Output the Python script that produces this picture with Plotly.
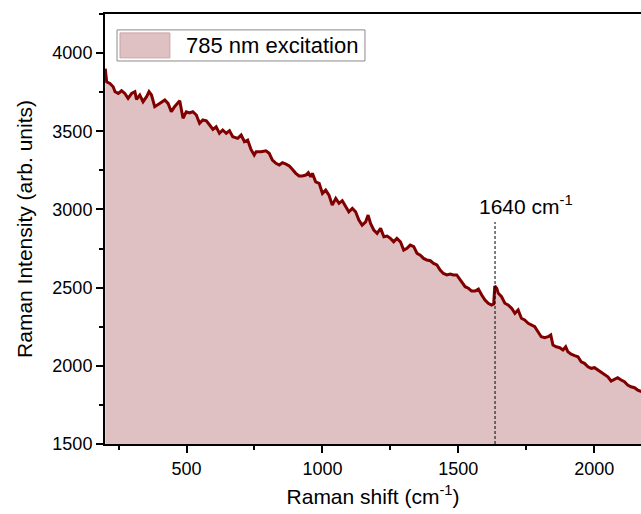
import plotly.graph_objects as go

# Raman-Spektrum (785 nm)
raman_shift = [201, 206, 218, 230, 237, 249, 261, 273, 285, 298, 310, 316, 328, 340, 353, 362, 371, 383,
               401, 420, 432, 444, 456, 468, 475, 487, 499, 511, 523, 536, 548, 560, 573, 585, 597, 609,
               621, 633, 646, 658, 670, 688, 701, 713, 725, 737, 749, 756, 774, 792, 804, 816, 829, 841,
               853, 866, 878, 890, 902, 914, 926, 939, 948, 957, 963, 975, 988, 1000, 1012, 1024, 1036,
               1049, 1061, 1073, 1085, 1097, 1110, 1122, 1134, 1146, 1159, 1168, 1177, 1189, 1201, 1214,
               1226, 1238, 1250, 1262, 1274, 1287, 1299, 1311, 1323, 1336, 1348, 1360, 1372, 1384, 1397,
               1409, 1421, 1433, 1445, 1458, 1470, 1482, 1494, 1507, 1519, 1525, 1537, 1549, 1562, 1574,
               1586, 1598, 1610, 1622, 1630, 1634, 1641, 1647, 1659, 1671, 1683, 1696, 1708, 1720, 1732,
               1744, 1757, 1769, 1781, 1793, 1805, 1818, 1830, 1840, 1848, 1860, 1873, 1885, 1895, 1903,
               1915, 1928, 1940, 1952, 1964, 1977, 1989, 2001, 2013, 2025, 2038, 2050, 2062, 2074, 2086,
               2099, 2111, 2123, 2135, 2148, 2160, 2175]
intensity = [3900, 3817, 3806, 3785, 3753, 3742, 3759, 3742, 3710, 3742, 3753, 3704, 3732, 3689, 3721, 3753,
             3732, 3657, 3678, 3700, 3678, 3625, 3657, 3678, 3695, 3583, 3625, 3618, 3625, 3604, 3551, 3572,
             3567, 3540, 3512, 3529, 3487, 3508, 3487, 3503, 3465, 3455, 3476, 3433, 3444, 3384, 3348, 3369,
             3369, 3375, 3359, 3316, 3295, 3284, 3299, 3290, 3278, 3256, 3231, 3214, 3214, 3220, 3235, 3209,
             3231, 3177, 3167, 3103, 3124, 3092, 3028, 3071, 3039, 3056, 3017, 2985, 3007, 2985, 2932, 2900,
             2921, 2964, 2911, 2868, 2847, 2879, 2825, 2830, 2815, 2793, 2815, 2793, 2740, 2751, 2772, 2762,
             2719, 2708, 2687, 2677, 2672, 2655, 2645, 2613, 2591, 2581, 2587, 2581, 2581, 2549, 2517, 2506,
             2496, 2478, 2478, 2491, 2453, 2421, 2400, 2389, 2395, 2510, 2496, 2464, 2442, 2400, 2389, 2368,
             2336, 2357, 2304, 2293, 2272, 2261, 2250, 2218, 2186, 2180, 2186, 2197, 2133, 2122, 2116, 2101,
             2122, 2090, 2074, 2065, 2058, 2026, 2016, 1994, 1984, 1988, 1973, 1958, 1941, 1930, 1903, 1916,
             1924, 1909, 1898, 1877, 1866, 1860, 1845, 1835]

x_ticks = [500, 1000, 1500, 2000]
y_ticks = [1500, 2000, 2500, 3000, 3500, 4000]

peak_shift = 1635
peak_label = "1640 cm<sup>-1</sup>"
series_name = "785 nm excitation"

line_color = "#800000"
fill_color = "rgb(224,193,195)"
font_family = "Liberation Sans, Arial, sans-serif"

fig = go.Figure()
fig.add_trace(go.Scatter(x=raman_shift, y=intensity, mode='lines', fill='tozeroy',
                         fillcolor=fill_color, line=dict(color=line_color, width=3),
                         name=series_name, showlegend=False))

# gestrichelte Linie an der Bande
fig.add_shape(type='line', x0=peak_shift, x1=peak_shift, y0=1500, y1=2920,
              xref='x', yref='y', line=dict(color='black', width=1, dash='3px,2px'))
fig.add_annotation(x=peak_shift, y=2935, xref='x', yref='y', text=peak_label, showarrow=False,
                   xanchor='left', yanchor='bottom', xshift=-18,
                   font=dict(size=21, color='black', family=font_family))

# Legende von Hand (Box + Farbfeld + Text)
fig.add_shape(type='rect', xref='paper', yref='paper', x0=0.0224, x1=0.485, y0=0.8907, y1=0.963,
              line=dict(color='#8a8a8a', width=1), fillcolor='white')
fig.add_shape(type='rect', xref='paper', yref='paper', x0=0.028, x1=0.121, y0=0.898, y1=0.956,
              line=dict(color='rgb(205,160,163)', width=1), fillcolor=fill_color)
fig.add_annotation(x=0.147, y=0.9265, xref='paper', yref='paper', text=series_name, showarrow=False,
                   xanchor='left', yanchor='middle', font=dict(size=22, color='black', family=font_family))

fig.update_layout(
    width=641, height=514,
    margin=dict(l=105, r=0, t=14, b=70),
    plot_bgcolor='white', paper_bgcolor='white',
    font=dict(family=font_family, color='black'),
    xaxis=dict(range=[200, 2172], tickvals=x_ticks, ticks='outside', ticklen=7, tickwidth=1.5,
               tickcolor='black', showline=True, linecolor='black', linewidth=2, mirror=True,
               showgrid=False, zeroline=False, tickfont=dict(size=18),
               minor=dict(dtick=250, tick0=0, ticks='outside', ticklen=4, tickwidth=1.5, tickcolor='black'),
               title=dict(text='Raman shift (cm<sup>-1</sup>)', font=dict(size=21), standoff=12)),
    yaxis=dict(range=[1500, 4250], tickvals=y_ticks, ticks='outside', ticklen=7, tickwidth=1.5,
               tickcolor='black', showline=True, linecolor='black', linewidth=2,
               showgrid=False, zeroline=False, tickfont=dict(size=18),
               minor=dict(dtick=250, tick0=0, ticks='outside', ticklen=4, tickwidth=1.5, tickcolor='black'),
               title=dict(text='Raman Intensity (arb. units)', font=dict(size=21), standoff=14)),
)

# Browser-Rand entfernen, damit die Grafik bei (0,0) beginnt; keine Modebar
fig.write_html("out.html", config={'displayModeBar': False},
               post_script="document.body.style.margin='0';")
